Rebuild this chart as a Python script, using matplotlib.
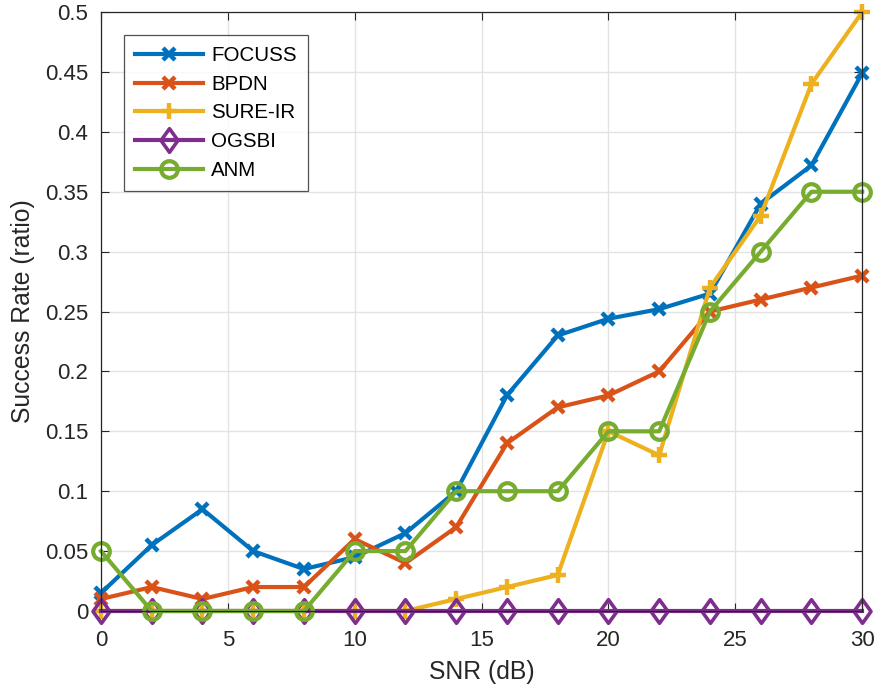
import matplotlib
matplotlib.use("Agg")
import matplotlib.pyplot as plt
from matplotlib.path import Path
from matplotlib.ticker import FuncFormatter

plt.rcParams['font.family'] = ['Liberation Sans', 'DejaVu Sans']

snr = [0, 2, 4, 6, 8, 10, 12, 14, 16, 18, 20, 22, 24, 26, 28, 30]
focuss = [0.015, 0.055, 0.085, 0.05, 0.035, 0.045, 0.065, 0.10, 0.18, 0.23,
          0.244, 0.252, 0.265, 0.34, 0.372, 0.449]
bpdn = [0.01, 0.02, 0.01, 0.02, 0.02, 0.06, 0.04, 0.07, 0.14, 0.17,
        0.18, 0.20, 0.25, 0.26, 0.27, 0.28]
sure_ir = [0, 0, 0, 0, 0, 0, 0, 0.01, 0.02, 0.03,
           0.15, 0.13, 0.27, 0.33, 0.44, 0.50]
ogsbi = [0] * 16
anm = [0.05, 0, 0, 0, 0, 0.05, 0.05, 0.10, 0.10, 0.10,
       0.15, 0.15, 0.25, 0.30, 0.35, 0.35]

c_blue = '#0072BD'
c_red = '#D95319'
c_yel = '#EDB120'
c_pur = '#7E2F8E'
c_grn = '#77AC30'

# diamond a bit wider than matplotlib's thin 'd'
diamond = Path([(0, 1), (0.72, 0), (0, -1), (-0.72, 0), (0, 1)],
               [Path.MOVETO, Path.LINETO, Path.LINETO, Path.LINETO, Path.CLOSEPOLY])

fig = plt.figure(figsize=(8.78, 6.9), dpi=100)
ax = fig.add_axes([0.115, 0.1145, 0.867, 0.868])

lw = 3.0
common = dict(lw=lw, clip_on=False)
ax.plot(snr, focuss, color=c_blue, marker='x', ms=9, mew=3.2, label='FOCUSS', **common)
ax.plot(snr, bpdn, color=c_red, marker='x', ms=9, mew=3.2, label='BPDN', **common)
ax.plot(snr, sure_ir, color=c_yel, marker='+', ms=12, mew=3.2, label='SURE-IR', **common)
ax.plot(snr, ogsbi, color=c_pur, marker=diamond, ms=17, mew=2.6, mfc='none', label='OGSBI', **common)
ax.plot(snr, anm, color=c_grn, marker='o', ms=12, mew=3.0, mfc='none', label='ANM', **common)

ax.set_xlim(0, 30)
ax.set_ylim(0, 0.5)
ax.set_xticks(range(0, 31, 5))
ax.set_yticks([i * 0.05 for i in range(11)])
ax.yaxis.set_major_formatter(FuncFormatter(lambda v, p: ('%.2f' % v).rstrip('0').rstrip('.') if v != 0 else '0'))
ax.grid(True, color='#e3e3e3', lw=1)
ax.set_axisbelow(True)
ax.tick_params(direction='in', labelsize=16, length=6, width=0.8, top=True, right=True,
               colors='#262626')
ax.tick_params(axis='x', pad=14)
ax.tick_params(axis='y', pad=9)
for s in ax.spines.values():
    s.set_color('#262626')
    s.set_linewidth(0.9)
ax.set_xlabel('SNR (dB)', fontsize=17.8, color='#262626', labelpad=6)
ax.set_ylabel('Success Rate (ratio)', fontsize=17.8, color='#262626', labelpad=7)

leg = ax.legend(loc='upper left', bbox_to_anchor=(0.03, 0.962), fontsize=14.8,
                frameon=True, fancybox=False, edgecolor='#262626', handlelength=3.3,
                borderaxespad=0, labelspacing=0.47, borderpad=0.55, handletextpad=0.4)
leg.get_frame().set_linewidth(0.9)

fig.savefig('out.png', dpi=100)
